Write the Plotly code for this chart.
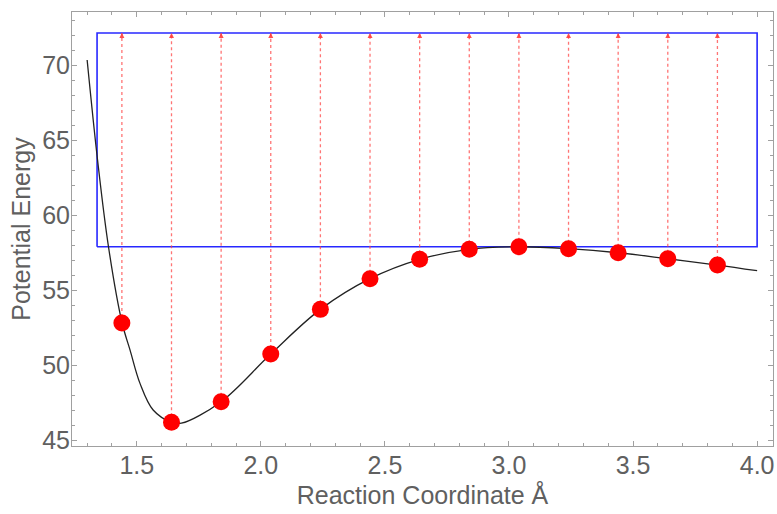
import plotly.graph_objects as go

# Sampled reaction-coordinate points (red dots)
point_x = [1.44, 1.64, 1.84, 2.04, 2.24, 2.44, 2.64, 2.84, 3.04, 3.24, 3.44, 3.64, 3.84]
point_y = [52.81, 46.18, 47.56, 50.74, 53.72, 55.77, 57.06, 57.73, 57.90, 57.77, 57.50, 57.10, 56.68]

# Potential energy curve
curve_x = [1.30, 1.342, 1.386, 1.441, 1.473, 1.513, 1.566, 1.64, 1.68, 1.84, 2.04, 2.24,
           2.44, 2.64, 2.84, 3.04, 3.24, 3.44, 3.64, 3.84, 4.00]
curve_y = [70.37, 63.69, 57.90, 52.81, 51.00, 48.78, 47.00, 46.18, 46.12, 47.56, 50.74, 53.72,
           55.77, 57.06, 57.73, 57.90, 57.77, 57.50, 57.10, 56.68, 56.30]

# Blue box bounds
box_x = [1.340, 4.0]
box_y = [57.90, 72.17]

x_ticks = [1.5, 2.0, 2.5, 3.0, 3.5, 4.0]
x_ticktext = ["1.5", "2.0", "2.5", "3.0", "3.5", "4.0"]
y_ticks = [45, 50, 55, 60, 65, 70]

grey_text = "#606060"
frame = "#a0a0a0"
font_family = "Liberation Sans, Arial, sans-serif"

fig = go.Figure()

# blue box
fig.add_trace(go.Scatter(
    x=[box_x[0], box_x[1], box_x[1], box_x[0], box_x[0]],
    y=[box_y[0], box_y[0], box_y[1], box_y[1], box_y[0]],
    mode="lines", line=dict(color="rgb(40,40,255)", width=1.6),
    hoverinfo="skip", showlegend=False))

# dotted red vertical lines
vx, vy = [], []
for px, py in zip(point_x, point_y):
    vx += [px, px, None]
    vy += [py, box_y[1], None]
fig.add_trace(go.Scatter(
    x=vx, y=vy, mode="lines",
    line=dict(color="rgba(255,70,70,0.75)", width=1.3, dash="dot"),
    hoverinfo="skip", showlegend=False))

# curve
fig.add_trace(go.Scatter(
    x=curve_x, y=curve_y, mode="lines",
    line=dict(color="#222222", width=1.3, shape="spline", smoothing=1.0),
    hoverinfo="skip", showlegend=False))

# dots
fig.add_trace(go.Scatter(
    x=point_x, y=point_y, mode="markers",
    marker=dict(color="#ff0000", size=17, line=dict(width=0)),
    showlegend=False))

annotations = []
for px in point_x:
    annotations.append(dict(
        x=px, y=box_y[1], ax=px, ay=box_y[1] - 0.45,
        xref="x", yref="y", axref="x", ayref="y",
        text="", showarrow=True, arrowhead=2, arrowsize=0.9,
        arrowwidth=1.1, arrowcolor="rgba(255,60,60,0.9)", standoff=0))

axis_common = dict(
    showline=True, linecolor=frame, linewidth=1, mirror="ticks",
    ticks="inside", tickcolor=frame, ticklen=5, tickwidth=1,
    showgrid=False, zeroline=False, ticklabeloverflow="allow",
    automargin=False,
    tickfont=dict(family=font_family, size=25, color=grey_text),
)

fig.update_layout(
    width=777, height=514,
    margin=dict(l=72, r=4, t=12, b=68),
    paper_bgcolor="white", plot_bgcolor="white",
    font=dict(family=font_family, color=grey_text),
    annotations=annotations,
    xaxis=dict(
        range=[1.239, 4.064], tickvals=x_ticks, ticktext=x_ticktext,
        ticklabelstandoff=-3,
        minor=dict(dtick=0.1, tick0=0, ticks="inside", ticklen=3, tickcolor=frame, showgrid=False),
        title=dict(text="Reaction Coordinate Å", font=dict(family=font_family, size=25, color=grey_text), standoff=8),
        **axis_common),
    yaxis=dict(
        range=[44.6, 73.57], tickvals=y_ticks,
        ticklabelstandoff=-4,
        minor=dict(dtick=1, tick0=0, ticks="inside", ticklen=3, tickcolor=frame, showgrid=False),
        title=dict(text="Potential Energy", font=dict(family=font_family, size=25, color=grey_text), standoff=4),
        **axis_common),
)

fig.write_html("out.html")
